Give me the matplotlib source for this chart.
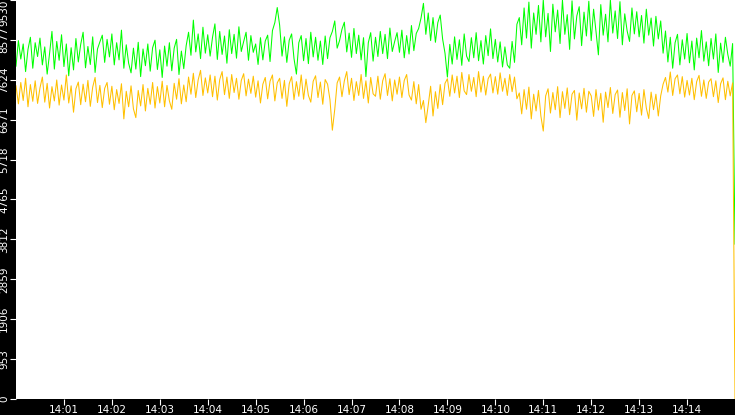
import numpy as np
import matplotlib
matplotlib.use("Agg")
from matplotlib import pyplot as plt

# samples every 3 s starting 14:00:00, last sample at 14:15:00
step_s = 3

green = [
    7950, 8560, 8120, 8480, 7820, 8350, 8640, 7900, 8510, 8180,
    8620, 7980, 8410, 7760, 8250, 8780, 7880, 8540, 8090, 8700,
    7940, 8480, 7720, 8390, 7860, 8610, 8050, 8470, 8760, 7910,
    8420, 7990, 8650, 7800, 8360, 8530, 8690, 8040, 8590, 8170,
    8720, 7980, 8510, 8100, 8810, 7900, 8460, 8020, 7790, 8380,
    7880, 8520, 7700, 8360, 7960, 8480, 7830, 8390, 8570, 7870,
    8340, 7680, 8430, 7950, 8510, 7840, 8380, 8590, 7750, 8310,
    7890, 8440, 8760, 8210, 9050, 8290, 8720, 8130, 8880, 8260,
    8700, 8190, 8640, 8960, 8110, 8780, 8230, 8670, 8020, 8820,
    8250, 8710, 8140, 8890, 8300, 8540, 8760, 8090, 8680, 8280,
    8480, 7990, 8630, 8100, 8550, 8690, 8060, 8800, 8990, 9350,
    8930, 8190, 8650, 8040, 8570, 8720, 8130, 7760, 8510, 8680,
    8080, 8610, 8010, 8760, 8170, 8640, 8090, 8550, 7990, 8670,
    8130, 8630, 8780, 9030, 8380, 8560, 8830, 9000, 8290, 8740,
    8160, 8850, 8250, 8690, 8100, 8630, 7700, 8510, 8750, 8070,
    8640, 8180, 8780, 8250, 8710, 8130, 8860, 8300, 8540, 8750,
    8280, 8810, 8150, 8680, 8240, 8920, 8320, 8730, 8850, 9100,
    9450, 8710, 9220, 8560, 9110, 8520, 8990, 9170, 8600, 8260,
    7690, 8470, 8000, 8650, 8110, 8580, 7970, 8720, 8190, 8060,
    8630, 8150, 8750, 8080, 8560, 8000, 8680, 8200, 8840, 8130,
    8590, 8050, 8530, 7930, 8410, 7980, 7900, 8540, 8040, 8950,
    9110, 8460, 9340, 8620, 9480, 8380, 9220, 8710, 9400, 8530,
    9530, 8650, 9210, 8300, 9430, 8770, 9290, 8490, 9530, 8710,
    9180, 8350, 9510, 8600, 9150, 9370, 8440, 9240, 8670, 9500,
    8560, 9310, 8780, 8220, 9420, 8690, 9190, 8530, 9530, 8740,
    9270, 8610, 9490, 8460, 9200, 8790, 8540, 9340, 8720, 9250,
    8650, 9160, 8500, 9310, 8690, 9100, 8430, 9140, 8600, 9030,
    8260, 8790, 8050, 8640, 7900, 8510, 8710, 7980, 8580, 8120,
    8730, 8030, 8550, 7860, 8620, 8150, 8800, 8070, 8530, 7960,
    8610, 8120, 8720, 7800, 8500, 8040, 8640, 8230, 7950, 8490,
    3700,
]

gold = [
    7480, 7050, 7560, 7130, 7660, 6980, 7510, 7110, 7600, 7060,
    7430, 7690, 7090, 7540, 6950, 7460, 7120, 7620, 7020, 7500,
    7140, 7740, 7070, 7480, 6850, 7410, 7570, 7030, 7520, 7100,
    7610, 6990, 7450, 7680, 7080, 7490, 6960, 7420, 7560, 7040,
    7470, 6910, 7390, 7060, 7530, 6690, 7350, 6980, 7480, 6930,
    6720, 7370, 7000, 7510, 6880, 7420, 7040, 7560, 6950, 7460,
    7070, 7590, 6980, 7490, 7120, 6920, 7540, 7160, 7650, 7050,
    7500, 7100, 7690, 7280, 7780, 7200, 7620, 7850, 7250, 7670,
    7310, 7740, 7220, 7710, 7140, 7630, 7820, 7270, 7690, 7180,
    7750, 7320, 7660, 7160, 7610, 7770, 7240, 7640, 7300, 7710,
    7210, 7600, 7070, 7520, 7680, 7170, 7590, 7740, 7120, 7550,
    7660, 7180, 7610, 6990, 7530, 7700, 7150, 7580, 7230, 7740,
    7160, 7640, 7250, 7090, 7590, 7720, 7200, 7570, 7040, 7630,
    7520, 7150, 6420, 6920, 7550, 7690, 7220, 7600, 7820, 7270,
    7660, 7130, 7580, 7250, 7750, 7180, 7600, 7070, 7680, 7290,
    7230, 7710, 7160, 7600, 7770, 7250, 7650, 7120, 7620, 7280,
    7690, 7200, 7610, 7750, 7260, 7140, 7580, 7050, 7510, 6920,
    7130, 6600, 7020, 7470, 6760, 7340, 6940, 7510, 7030, 7540,
    7650, 7230, 7740, 7310, 7710, 7200, 7800, 7360, 7270, 7750,
    7350, 7680, 7220, 7820, 7330, 7710, 7260, 7650, 7760, 7310,
    7700, 7280, 7790, 7350, 7660, 7250, 7750, 7340, 7690, 7170,
    7310, 6810, 7390, 6920, 7450, 6690, 7280, 6880, 7370, 6760,
    6400, 7240, 7410, 6830, 7320, 6910, 7460, 6720, 7340, 6940,
    7430, 6790, 7280, 7370, 6660, 7310, 6930, 7420, 6850, 7350,
    7240, 6750, 7390, 6900, 7300, 6610, 7330, 6960, 7440, 6820,
    7270, 7380, 6730, 7320, 6890, 7410, 6570, 7250, 7360, 6860,
    7300, 6780, 7390, 6950, 6700, 7330, 6910, 7280, 6760, 7240,
    7520, 7680, 7330, 7810, 7250, 7650, 7740, 7290, 7700, 7210,
    7610, 7260, 7660, 7150, 7580, 7730, 7230, 7620, 7180, 7570,
    7650, 7220, 7600, 7080, 7530, 7670, 7150, 7590, 7240, 7550,
    0,
]

y_ticks = [0, 953, 1906, 2859, 3812, 4765, 5718, 6671, 7624, 8577, 9530]
x_tick_labels = ["14:01", "14:02", "14:03", "14:04", "14:05", "14:06", "14:07",
                 "14:08", "14:09", "14:10", "14:11", "14:12", "14:13", "14:14"]

t = np.arange(len(green)) * step_s

W, H = 735, 415
fig = plt.figure(figsize=(W / 100, H / 100), dpi=100, facecolor="black")
ax = fig.add_axes([16 / W, 16 / H, 719 / W, 399 / H], facecolor="white")

ax.plot(t, green, color="#00ff00", lw=0.75)
ax.plot(t, gold, color="#ffc000", lw=0.75)

ax.set_xlim(0, 900)
ax.set_ylim(0, 9530)
for s in ax.spines.values():
    s.set_visible(False)

ax.set_yticks(y_ticks)
ax.set_yticklabels([str(v) for v in y_ticks], rotation=90, va="center")
ax.get_yticklabels()[-1].set_va("top")
ax.set_xticks([60 * (i + 1) for i in range(len(x_tick_labels))])
ax.set_xticklabels(x_tick_labels)
ax.tick_params(axis="y", colors="white", length=4, width=0.8, pad=1, labelsize=7.5)
ax.tick_params(axis="x", colors="white", length=4, width=0.8, pad=0.5, labelsize=7.5)

fig.savefig("out.png", dpi=100, facecolor="black")
